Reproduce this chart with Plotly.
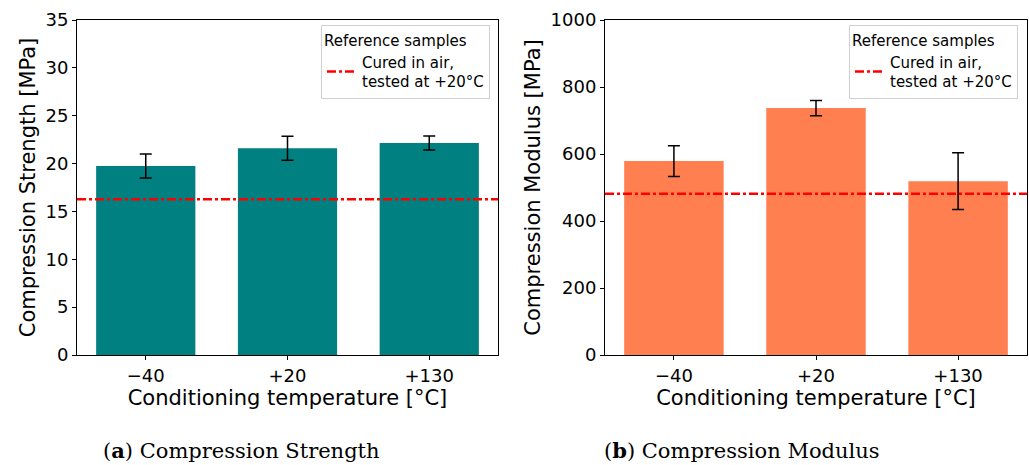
import plotly.graph_objects as go

categories = ["\u221240", "+20", "+130"]
strength = [19.75, 21.6, 22.15]
strength_err = [1.25, 1.25, 0.72]
strength_ref = 16.27
modulus = [579, 737, 519]
modulus_err = [46, 23, 85]
modulus_ref = 481

FONT = "DejaVu Sans"
fig = go.Figure()

fig.add_trace(go.Bar(x=categories, y=strength, width=0.7, marker_color="#008080",
                     marker_line_width=0, showlegend=False,
                     error_y=dict(type="data", array=strength_err, color="black", thickness=1.5, width=6),
                     xaxis="x", yaxis="y"))
fig.add_trace(go.Bar(x=categories, y=modulus, width=0.7, marker_color="#FF7F50",
                     marker_line_width=0, showlegend=False,
                     error_y=dict(type="data", array=modulus_err, color="black", thickness=1.5, width=6),
                     xaxis="x2", yaxis="y2"))

refline = dict(color="red", width=2.5, dash="dashdot")
for ax, yax, val, leg in [("x", "y", strength_ref, "legend"), ("x2", "y2", modulus_ref, "legend2")]:
    fig.add_shape(type="line", xref=f"{ax} domain", yref=yax, x0=0, x1=1, y0=val, y1=val,
                  line=refline, layer="above")
    fig.add_trace(go.Scatter(x=[None], y=[None], mode="lines", line=refline,
                             name="Cured in air,<br>tested at +20°C",
                             xaxis=ax, yaxis=yax, legend=leg, showlegend=True))

axis_common = dict(showline=True, linecolor="black", linewidth=1, mirror=True,
                   ticks="outside", ticklen=4, tickcolor="black", showgrid=False,
                   zeroline=False, automargin=False,
                   tickfont=dict(family=FONT, size=18, color="black"))
title_font = dict(family=FONT, size=21, color="black")
leg_font = dict(family=FONT, size=15, color="black")

ydom = [(465 - 355) / 465, (465 - 20) / 465]
fig.update_layout(
    width=1029, height=465,
    margin=dict(l=0, r=0, t=0, b=0, autoexpand=False),
    plot_bgcolor="white", paper_bgcolor="white",
    xaxis=dict(domain=[77 / 1029, 498 / 1029], range=[-0.485, 2.485], type="category",
               title=dict(text="Conditioning temperature [°C]", font=title_font, standoff=2),
               **axis_common),
    yaxis=dict(domain=ydom, range=[0, 35], dtick=5,
               title=dict(text="Compression Strength [MPa]", font=title_font, standoff=4),
               **axis_common),
    xaxis2=dict(domain=[605 / 1029, 1027 / 1029], range=[-0.485, 2.485], type="category", anchor="y2",
                title=dict(text="Conditioning temperature [°C]", font=title_font, standoff=2),
                **axis_common),
    yaxis2=dict(domain=ydom, range=[0, 1000], dtick=200, anchor="x2",
                title=dict(text="Compression Modulus [MPa]", font=title_font, standoff=4),
                **axis_common),
    legend=dict(x=490 / 1029, y=(465 - 25) / 465, xanchor="right", yanchor="top",
                bgcolor="white", bordercolor="#d0d0d0", borderwidth=1, font=leg_font,
                title=dict(text="Reference samples", side="top", font=leg_font)),
    legend2=dict(x=1018 / 1029, y=(465 - 25) / 465, xanchor="right", yanchor="top",
                 bgcolor="white", bordercolor="#d0d0d0", borderwidth=1, font=leg_font,
                 title=dict(text="Reference samples", side="top", font=leg_font)),
)

cap_font = dict(family="DejaVu Serif", size=21, color="black")
fig.add_annotation(text="(<b>a</b>) Compression Strength", x=241 / 1029, y=(465 - 450) / 465,
                   xref="paper", yref="paper", showarrow=False, xanchor="center", yanchor="middle",
                   font=cap_font)
fig.add_annotation(text="(<b>b</b>) Compression Modulus", x=742 / 1029, y=(465 - 450) / 465,
                   xref="paper", yref="paper", showarrow=False, xanchor="center", yanchor="middle",
                   font=cap_font)

fig.write_html("out.html", config={"displayModeBar": False},
               post_script="document.body.style.margin='0px';document.body.style.overflow='hidden';")
